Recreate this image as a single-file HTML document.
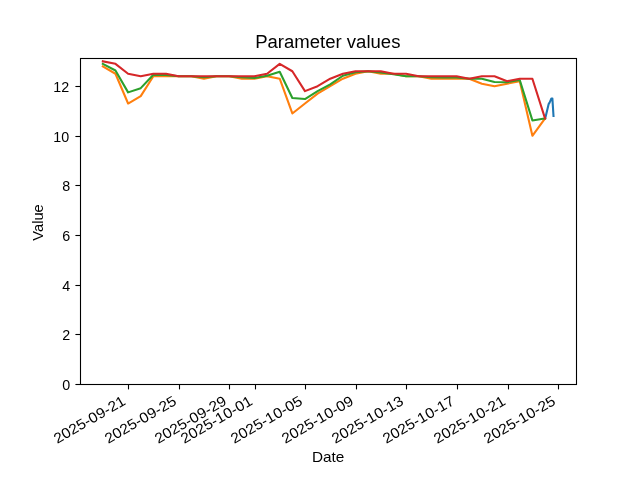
<!DOCTYPE html>
<html><head><meta charset="utf-8"><title>Parameter values</title>
<style>
html,body{margin:0;padding:0;background:#fff;}
body{width:640px;height:480px;overflow:hidden;font-family:"Liberation Sans",sans-serif;}
svg{display:block;will-change:transform;}
text{font-family:"Liberation Sans",sans-serif;fill:#000;}
</style></head><body>
<svg width="640" height="480" viewBox="0 0 640 480">
<rect x="0" y="0" width="640" height="480" fill="#ffffff"/>

<g fill="none" stroke-width="2.08" stroke-linejoin="round" stroke-linecap="square">
<polyline points="545.2,118.4 548.6,104.2 549.6,102.7 551.4,98.5 552.4,98.6 553.5,116.0" stroke="#1f77b4"/>
<polyline points="102.83,66.30 115.46,73.75 128.10,103.53 140.73,96.09 153.37,76.23 166.00,76.23 178.63,76.23 191.27,76.23 203.90,78.71 216.54,76.23 229.17,76.23 241.80,78.71 254.44,78.71 267.07,76.23 279.71,78.71 292.34,113.46 304.97,103.53 317.61,93.61 330.24,86.16 342.88,78.71 355.51,73.75 368.14,71.27 380.78,73.75 393.41,73.75 406.05,76.23 418.68,76.23 431.31,78.71 443.95,78.71 456.58,78.71 469.22,78.71 481.85,83.68 494.48,86.16 507.12,83.68 519.75,81.20 532.39,135.80 545.02,118.43" stroke="#ff7f0e"/>
<polyline points="102.83,63.82 115.46,70.52 128.10,92.37 140.73,88.15 153.37,74.74 166.00,74.99 178.63,76.23 191.27,76.23 203.90,77.22 216.54,76.23 229.17,76.23 241.80,77.22 254.44,77.97 267.07,75.74 279.71,71.76 292.34,98.07 304.97,99.07 317.61,91.12 330.24,84.42 342.88,75.74 355.51,72.26 368.14,71.27 380.78,72.51 393.41,74.25 406.05,76.23 418.68,76.23 431.31,77.22 443.95,77.47 456.58,77.47 469.22,78.71 481.85,78.71 494.48,81.94 507.12,82.19 519.75,79.95 532.39,120.41 545.02,118.43" stroke="#2ca02c"/>
<polyline points="102.83,61.34 115.46,63.82 128.10,73.75 140.73,76.23 153.37,73.75 166.00,73.75 178.63,76.23 191.27,76.23 203.90,76.23 216.54,76.23 229.17,76.23 241.80,76.23 254.44,76.23 267.07,73.75 279.71,63.82 292.34,71.27 304.97,91.12 317.61,86.16 330.24,78.71 342.88,73.75 355.51,71.27 368.14,71.27 380.78,71.27 393.41,73.75 406.05,73.75 418.68,76.23 431.31,76.23 443.95,76.23 456.58,76.23 469.22,78.71 481.85,76.23 494.48,76.23 507.12,81.20 519.75,78.71 532.39,78.71 545.02,118.43" stroke="#d62728"/>
</g>
<g stroke="#000" stroke-width="1.1" fill="none" shape-rendering="auto">
<rect x="80.5" y="58.5" width="496" height="326"/>
<line x1="75.4" y1="384.5" x2="80.5" y2="384.5"/>
<line x1="75.4" y1="334.5" x2="80.5" y2="334.5"/>
<line x1="75.4" y1="285.5" x2="80.5" y2="285.5"/>
<line x1="75.4" y1="235.5" x2="80.5" y2="235.5"/>
<line x1="75.4" y1="185.5" x2="80.5" y2="185.5"/>
<line x1="75.4" y1="136.5" x2="80.5" y2="136.5"/>
<line x1="75.4" y1="86.5" x2="80.5" y2="86.5"/>
<line x1="128.5" y1="384.5" x2="128.5" y2="389.4"/>
<line x1="179.5" y1="384.5" x2="179.5" y2="389.4"/>
<line x1="229.5" y1="384.5" x2="229.5" y2="389.4"/>
<line x1="255.5" y1="384.5" x2="255.5" y2="389.4"/>
<line x1="305.5" y1="384.5" x2="305.5" y2="389.4"/>
<line x1="356.5" y1="384.5" x2="356.5" y2="389.4"/>
<line x1="406.5" y1="384.5" x2="406.5" y2="389.4"/>
<line x1="457.5" y1="384.5" x2="457.5" y2="389.4"/>
<line x1="508.5" y1="384.5" x2="508.5" y2="389.4"/>
<line x1="558.5" y1="384.5" x2="558.5" y2="389.4"/>
</g>
<text x="70.2" y="389.6" font-size="14.3" text-anchor="end">0</text>
<text x="70.2" y="339.6" font-size="14.3" text-anchor="end">2</text>
<text x="70.2" y="290.6" font-size="14.3" text-anchor="end">4</text>
<text x="70.2" y="240.6" font-size="14.3" text-anchor="end">6</text>
<text x="70.2" y="190.6" font-size="14.3" text-anchor="end">8</text>
<text x="69.2" y="141.6" font-size="14.3" text-anchor="end">10</text>
<text x="69.2" y="91.6" font-size="14.3" text-anchor="end">12</text>
<text transform="translate(126.5,403.9) rotate(-30)" font-size="14.5" text-anchor="end" textLength="80" lengthAdjust="spacingAndGlyphs">2025-09-21</text>
<text transform="translate(177.5,403.9) rotate(-30)" font-size="14.5" text-anchor="end" textLength="80" lengthAdjust="spacingAndGlyphs">2025-09-25</text>
<text transform="translate(227.5,403.9) rotate(-30)" font-size="14.5" text-anchor="end" textLength="80" lengthAdjust="spacingAndGlyphs">2025-09-29</text>
<text transform="translate(253.5,403.9) rotate(-30)" font-size="14.5" text-anchor="end" textLength="80" lengthAdjust="spacingAndGlyphs">2025-10-01</text>
<text transform="translate(303.5,403.9) rotate(-30)" font-size="14.5" text-anchor="end" textLength="80" lengthAdjust="spacingAndGlyphs">2025-10-05</text>
<text transform="translate(354.5,403.9) rotate(-30)" font-size="14.5" text-anchor="end" textLength="80" lengthAdjust="spacingAndGlyphs">2025-10-09</text>
<text transform="translate(404.5,403.9) rotate(-30)" font-size="14.5" text-anchor="end" textLength="80" lengthAdjust="spacingAndGlyphs">2025-10-13</text>
<text transform="translate(455.5,403.9) rotate(-30)" font-size="14.5" text-anchor="end" textLength="80" lengthAdjust="spacingAndGlyphs">2025-10-17</text>
<text transform="translate(506.5,403.9) rotate(-30)" font-size="14.5" text-anchor="end" textLength="80" lengthAdjust="spacingAndGlyphs">2025-10-21</text>
<text transform="translate(556.5,403.9) rotate(-30)" font-size="14.5" text-anchor="end" textLength="80" lengthAdjust="spacingAndGlyphs">2025-10-25</text>
<text x="327.8" y="48.4" font-size="17.6" text-anchor="middle" textLength="145.3" lengthAdjust="spacingAndGlyphs">Parameter values</text>
<text x="328.2" y="461.9" font-size="14.3" text-anchor="middle" textLength="32.4" lengthAdjust="spacingAndGlyphs">Date</text>
<text transform="translate(43.3,222.5) rotate(-90)" font-size="14.4" text-anchor="middle" textLength="36.5" lengthAdjust="spacingAndGlyphs">Value</text>
</svg></body></html>
